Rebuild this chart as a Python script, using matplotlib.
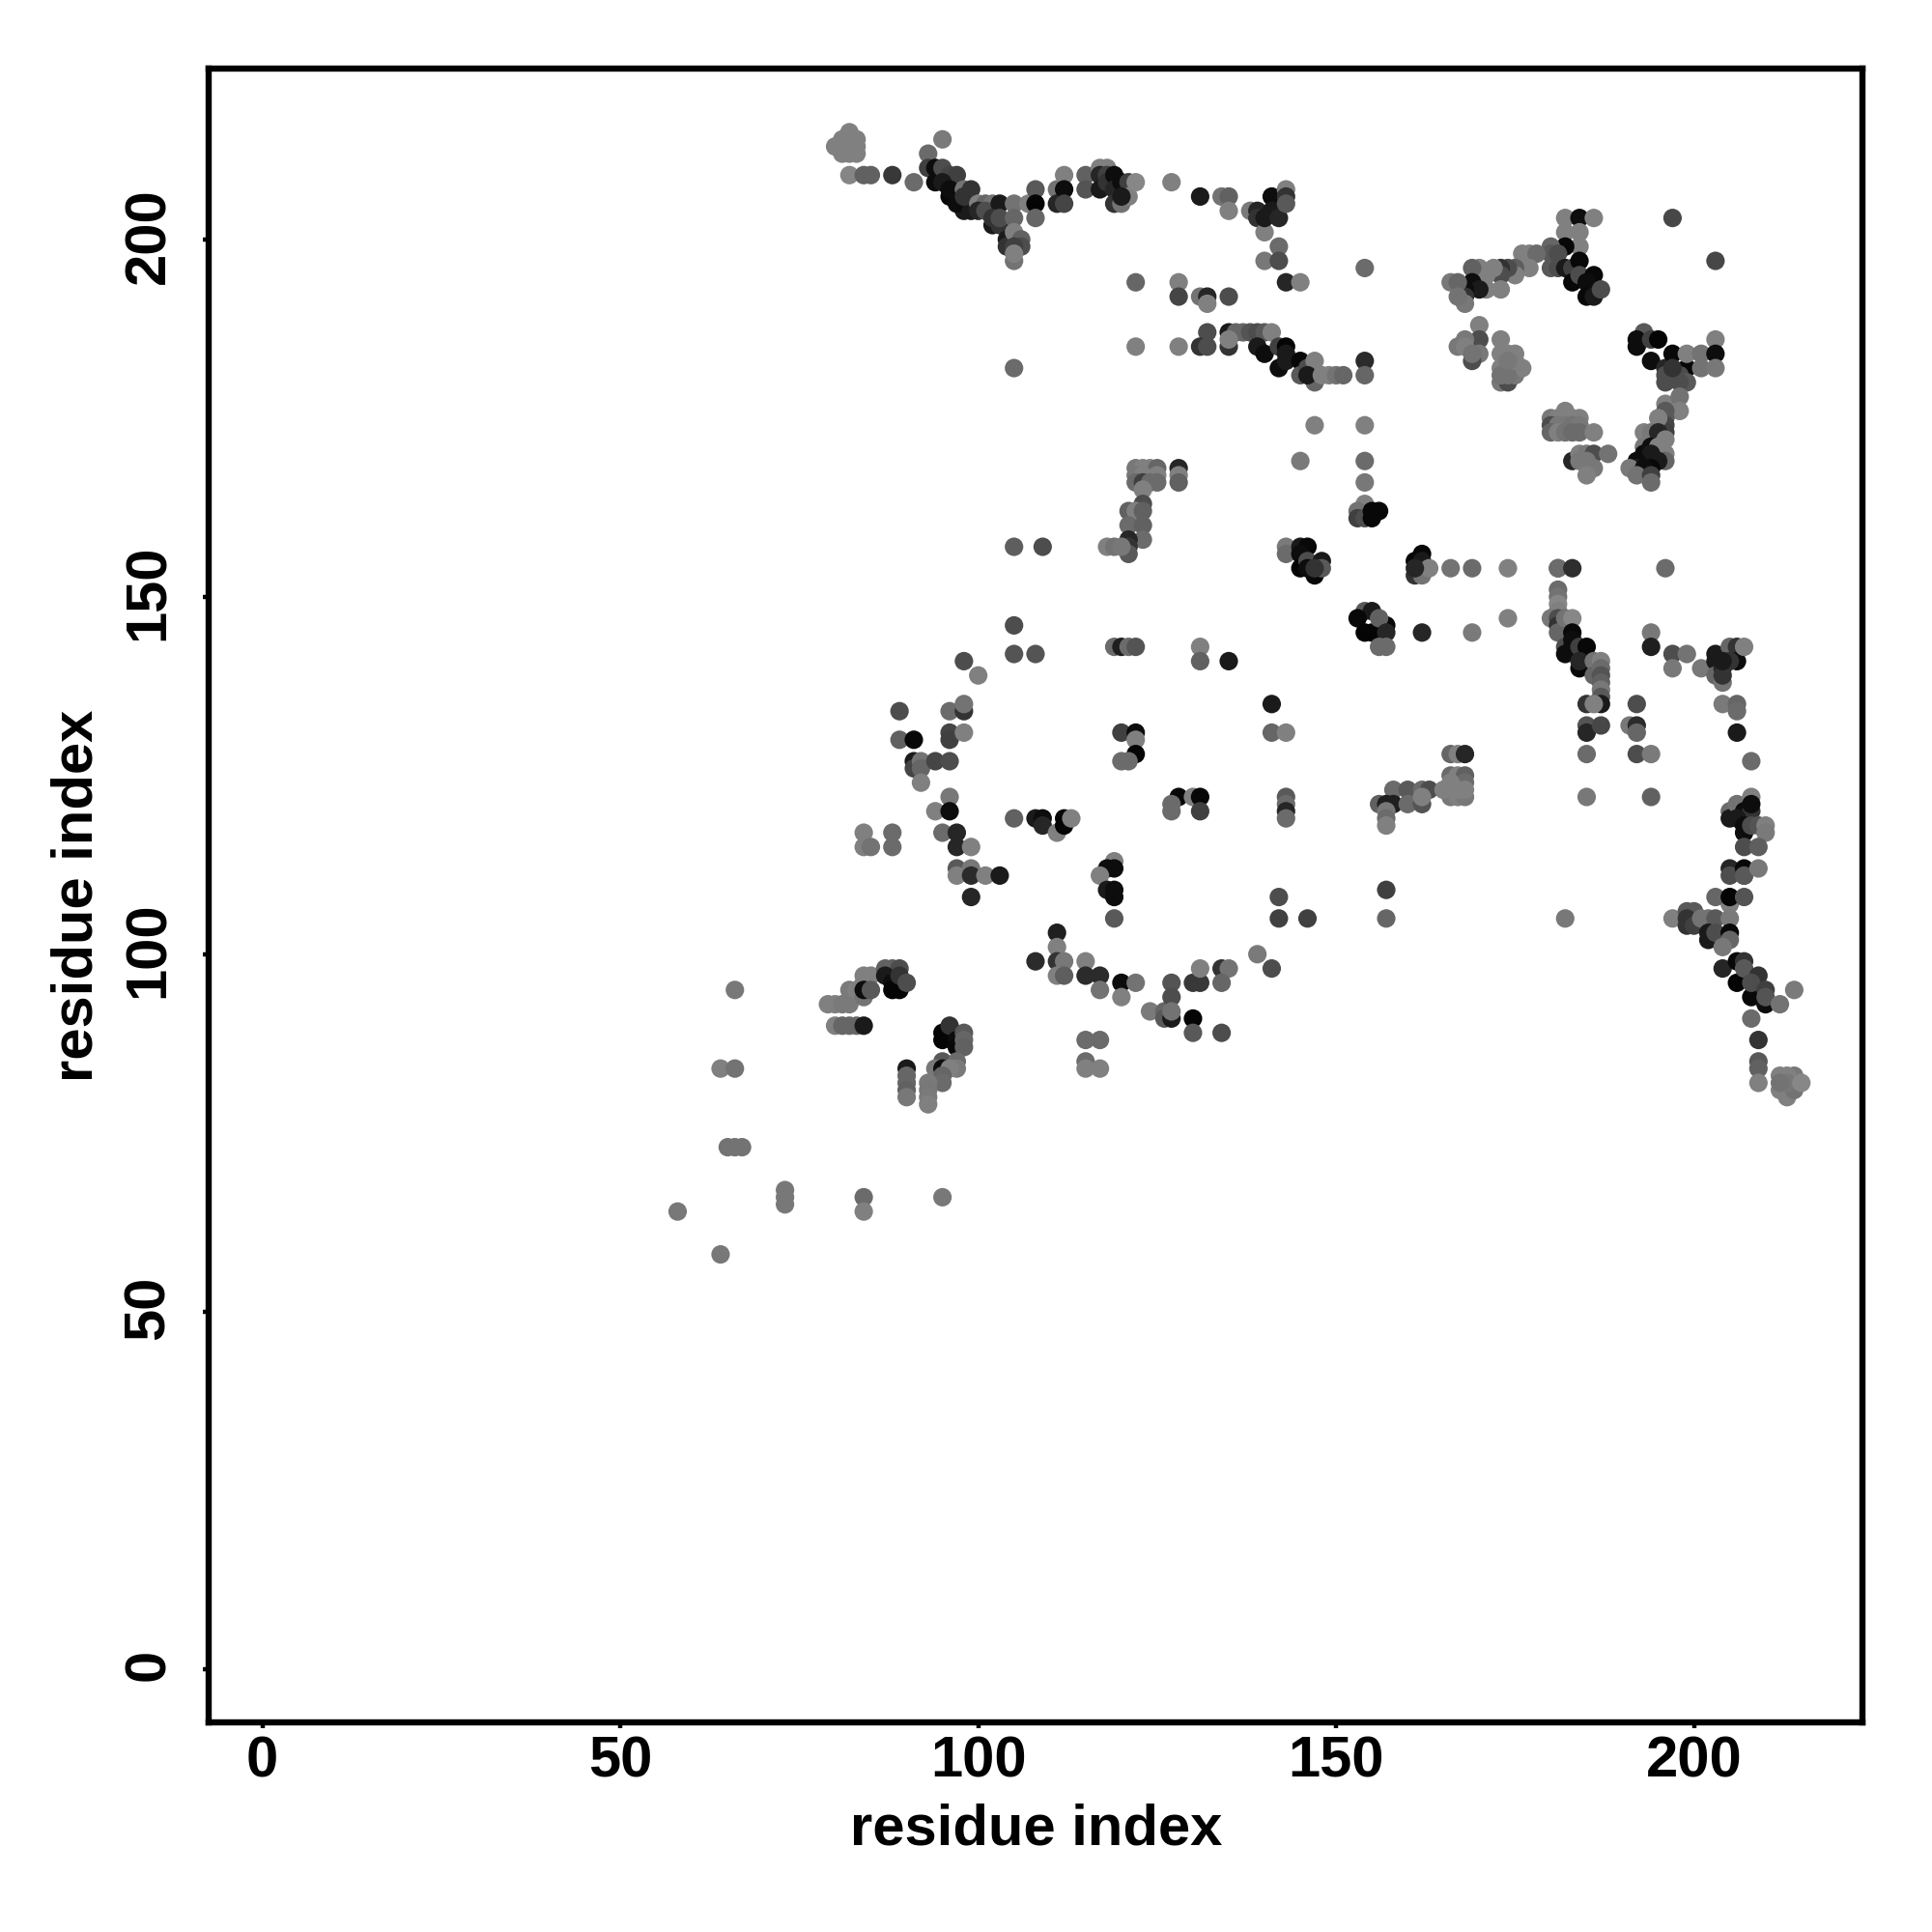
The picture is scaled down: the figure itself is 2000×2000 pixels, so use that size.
import matplotlib
matplotlib.use('Agg')
import matplotlib.pyplot as plt
from matplotlib.transforms import ScaledTranslation

# residue pairs, one group per part of the map
# x = residue, y = residue, g = grey level of the dot
top_x = [82,83,80,81,83,82,81,83, 82,84,85,88,91, 95,93,93, 94,94,95,96,96,97,95,96,98,99,98,97,99,98,
         100,101,102,100,101,102,103,102,103,104,104,103, 105,105,105,106,106,105,105,105,
         107,108,108,108, 111,111,112,112,112, 115,115,117,118,117,117,118,118,119,119,119,120,120,121,121,122,120,
         127,131,134,135,135, 138,139,139,140,141,140,141,142,143,143,143,142,140,142,143,145,
         122,128,128,131,132,132,135]
top_y = [215,214,213,214,213,212,212,212, 209,209,209,209,208, 214,212,210, 210,208,210,209,206,209,208,207,207,207,204,205,204,206,
         205,205,205,204,204,202,205,203,202,200,199,203, 205,203,201,200,199,199,197,198,
         205,207,205,203, 207,205,209,207,205, 209,207,210,210,209,207,209,208,209,207,205,205,208,208,206,208,206,
         208,206,206,206,204, 204,204,203,201,206,203,204,203,207,206,205,199,197,197,194,194,
         194,194,192,192,192,191,192]
top_g = [.5,.5,.5,.5,.5,.5,.5,.5, .52,.38,.38,.22,.42, .48,.42,.25, .05,.05,.3,.27,.03,.25,.1,.05,.45,.2,.1,.05,.1,.2,
         .5,.4,.45,.15,.3,.1,.1,.2,.2,.1,.2,.3, .45,.4,.5,.38,.3,.25,.45,.5,
         .5,.35,.02,.4, .45,.15,.5,.05,.27, .38,.33,.5,.5,.15,.1,.25,.2,.05,.15,.2,.45,.05,.25,.5,.53,.1,
         .5,.1,.45,.38,.5, .48,.15,.2,.5,.05,.1,.1,.15,.5,.2,.35,.42,.47,.3,.15,.5,
         .4,.5,.27,.45,.15,.5,.3]

strand_x = [132,135,136,137,138,139,140,141, 122,128,131,132,135,135, 139,140,142,143,142,143,143,145,145,146,147,147,146,
            148,149,150,151, 105, 154,154,154,154,154,154,154]
strand_y = [187,187,187,187,187,187,187,187, 185,185,185,185,185,186, 185,184,185,185,182,183,184,183,181,182,183,180,181,
            181,181,181,181, 182, 196,183,181,174,169,166,163]
strand_g = [.3,.1,.4,.4,.33,.3,.35,.5, .5,.5,.2,.3,.2,.5, .1,.05,.25,.02,.05,.1,.1,.03,.35,.3,.5,.4,.1,
            .5,.5,.45,.4, .42, .42,.17,.4,.5,.42,.47,.5]

ring_x = [182,184,186,182,184,184,182,180,180,180,181,181,182,183,184,183,184,186,185,185,186,187,
          176,177,178,177,175,175,174,173,173,173,172,171,171,170,169,169,170,168,168,168,166,167,167,
          170,170,168,167,168,170,169,169, 173,173,173,173,174,174,174,175,175,176,173,174,175,174,
          197,203]
ring_y = [203,203,203,201,201,199,199,199,198,196,198,196,196,196,197,194,195,195,194,192,192,193,
          198,198,198,196,196,195,196,196,195,193,196,193,195,196,196,194,193,193,192,191,194,194,192,
          188,186,186,185,185,184,183,184, 186,184,182,180,184,182,180,184,181,182,181,181,183,183,
          203,197]
ring_g = [.5,.05,.5,.5,.5,.5,.03,.4,.35,.35,.3,.3,.1,.25,.03,.03,.3,.03,.05,.03,.1,.3,
          .5,.5,.42,.5,.37,.5,.3,.2,.3,.5,.5,.5,.5,.5,.38,.05,.1,.05,.2,.47,.47,.4,.45,
          .5,.3,.47,.47,.5,.47,.3,.45, .5,.5,.5,.47,.5,.47,.3,.5,.47,.5,.45,.45,.5,.47,
          .28,.28]

arm_x = [193,192,192,194,195,194,196,197,199,199,201,203,203,201,203,196,196,198,199,198,197,
         196,198,198, 196,196,196,196,195,193,194,195,196,193,194,196,195,193,194,196,195,192,192,194,191,193,192,194,194,
         182,180,181,184,183,180,181,182,183,184,180,181,182,183,184,186,
         183,184,185,186,188,184,185,186,185]
arm_y = [187,186,185,186,186,183,182,184,182,184,184,186,184,182,182,181,180,181,180,180,182,
         177,178,176, 176,175,174,173,175,173,173,173,172,171,171,170,171,170,170,169,169,169,168,168,168,168,167,167,166,
         176,175,175,175,175,174,174,174,174,174,173,173,173,173,173,173,
         169,170,170,170,170,169,169,168,167]
arm_g = [.35,.05,.05,.25,.02,.05,.15,.03,.03,.5,.45,.5,.05,.45,.47,.3,.3,.3,.35,.3,.2,
         .5,.45,.5, .35,.35,.27,.25,.5,.5,.47,.15,.5,.47,.05,.5,.5,.05,.1,.4,.1,.05,.1,.03,.48,.05,.45,.25,.42,
         .5,.47,.5,.5,.5,.3,.47,.47,.45,.47,.4,.5,.45,.42,.42,.5,
         .15,.5,.47,.3,.45,.47,.47,.47,.5]

mid_x = [147,145, 153,153,154,155,155,156,
         122,123,124,125,128,122,123,125,128,122,123,124,125,128,123,123,121,122,123,121,123,123,121,121,121,118,119,120,
         143,143,145,146,145,145,146,147,148,148,146,147,
         162,161,161,162,162,163,161,166,169,174,181,174,169,
         162,154,155,153,157,154,155,156,157,156,157,
         119,120,121,122,131,131,135,141, 105,109,105,105,108]
mid_y = [174,169, 162,161,161,162,161,162,
         168,168,168,168,168,167,167,167,167,166,166,166,166,166,165,163,162,162,162,160,160,158,158,157,156,157,157,157,
         157,156,157,157,156,154,155,153,155,154,154,154,
         156,155,153,155,153,154,154,154,154,154,154,147,145,
         145,148,148,147,146,145,145,147,145,143,143,
         143,143,143,143,143,141,141,135, 157,157,146,142,142]
mid_g = [.5,.48, .45,.25,.3,.03,.03,.03,
         .47,.5,.5,.4,.15,.47,.5,.5,.5,.42,.25,.42,.42,.38,.5,.3,.38,.5,.38,.42,.38,.42,.15,.2,.35,.5,.45,.47,
         .48,.42,.1,.03,.05,.02,.3,.03,.1,.35,.05,.2,
         .03,.03,.2,.1,.45,.5,.15,.45,.42,.5,.42,.5,.48,
         .15,.35,.1,.03,.03,.02,.02,.38,.15,.42,.42,
         .42,.12,.42,.33,.5,.38,.1,.1, .37,.3,.3,.33,.33]

right_x = [181,183,196, 181,181,181,181,180,181,181,181,182,183,183,182,182,183,183,184,185,184,184,186,187,186,187,187,187,187,187,187,
           185,186,185,185,187,185,185,
           194,194,197,199,197,201,203,203,203,204,204,204,205,206,206,205,207,204,
           204,206,206,206,208,192,191,192,192,192,194,194]
right_y = [154,154,154, 151,150,149,148,147,147,146,145,147,147,145,143,142,144,143,143,143,140,141,141,141,139,140,139,138,137,136,135,
           135,135,132,131,132,128,122,
           145,143,142,142,140,140,142,141,139,138,140,139,143,143,141,141,143,141,
           135,135,134,131,127,135,132,132,131,128,128,122]
right_g = [.42,.18,.42, .42,.45,.53,.5,.47,.3,.2,.4,.45,.53,.03,.3,.05,.05,.05,.25,.03,.03,.15,.45,.5,.4,.42,.33,.38,.47,.35,.1,
           .2,.5,.33,.15,.28,.42,.47,
           .47,.12,.3,.45,.47,.47,.1,.1,.4,.45,.15,.2,.4,.2,.05,.2,.5,.1,
           .48,.4,.42,.1,.42,.3,.47,.17,.4,.3,.48,.38]

low_right_x = [205,205,206,207,208,208,206,207,207,207,208,208,209,210,210,
               207,209,205,205,207,207,209, 205,203,205,207,
               197,199,200,199,199,200,201,202,203,205,202,202,203,205,205,204,204,206,207,206,207,209,208,208,210,210,210,212,214,
               208,209,209,209,209, 212,214,213,212,213,214,213,212,215]
low_right_y = [120,119,121,120,120,122,119,118,117,111,121,118,118,118,117,
               115,115,112,111,112,111,112, 107,108,108,108,
               105,106,106,105,104,104,105,105,105,105,103,102,103,103,102,101,98,99,99,96,98,97,94,96,95,93,94,93,95,
               91,88,85,84,82, 83,83,83,81,80,81,82,82,82]
low_right_g = [.42,.1,.45,.05,.2,.5,.1,.05,.05,.35,.05,.3,.33,.5,.48,
               .3,.37,.15,.3,.03,.35,.47, .5,.4,.02,.33,
               .5,.35,.35,.2,.2,.25,.45,.45,.35,.48,.1,.1,.3,.03,.4,.47,.15,.03,.2,.02,.35,.2,.03,.3,.25,.05,.33,.45,.48,
               .42,.2,.35,.38,.5, .5,.47,.5,.5,.5,.45,.47,.45,.53]

bottom_x = [79,80,81,82,82,83,84,85,84,84,84,85, 80,81,82,83,84, 87,88,89,87,88,88,89,89,90,
            95,95,96,97,97,98,98,98, 90,90,90,90,90, 95,94,95,97,97,96,95,95,93,93,93,93,
            84,84,95, 66,64,66,65,66,67,73,73,73,58,64]
bottom_y = [93,93,93,93,95,95,97,97,96,94,95,95, 90,90,90,90,90, 98,98,98,97,96,95,95,97,96,
            89,88,90,88,87,89,88,87, 84,83,82,81,80, 85,84,84,85,84,84,83,82,82,81,80,79,
            66,64,66, 95,84,84,73,73,73,67,66,65,64,58]
bottom_g = [.5,.5,.48,.48,.48,.5,.5,.5,.5,.45,.05,.35, .5,.4,.4,.4,.1, .38,.38,.3,.1,.05,.02,.02,.2,.3,
            .02,.02,.2,.05,.03,.35,.4,.38, .1,.4,.4,.38,.47, .35,.47,.05,.42,.48,.5,.4,.42,.48,.47,.48,.5,
            .42,.5,.47, .47,.5,.45,.45,.45,.45,.47,.47,.47,.47,.47]

arc_x = [108,111,111,111,112,111,112,115,115,117,117,120,120,122,124,126,126,127,127,127,127,
         130,131,131,130,130,134,135,134,134,139,141,
         115,117,115,115,117]
arc_y = [99,103,101,99,99,97,97,99,97,97,95,96,94,96,92,92,91,96,94,91,92,
         96,96,98,91,89,98,98,96,89,100,98,
         88,88,85,84,84]
arc_g = [.17,.12,.5,.2,.47,.5,.37,.5,.17,.17,.45,.05,.5,.45,.48,.4,.35,.33,.3,.1,.45,
         .22,.22,.5,.02,.35,.2,.45,.4,.3,.48,.3,
         .42,.42,.42,.5,.5]

centre_x = [98,100,89,96,98,98,89,91,96,96,98, 91,91,92,92,92,94,96, 96,94,96,95,97,97,99,
            84,84,85,88,88, 97,97,99,99,101,103,99,
            105,108,109,109,111,112,112,113,
            120,122,122,122,120,121, 128,127,127,130,131,131,
            141,143,143,143,143,143, 119,118,119,117,118,119,119,119, 142,142,146,
            158,160,162,163,156,157,158,160,162,162,157,157,157,
            166,167,168,166,167,168,166,168,166,167,168,166,167,168,165,
            157,157,182]
centre_y = [141,139,134,134,134,135,130,130,131,130,131, 127,126,127,126,124,127,127, 122,120,120,117,117,115,115,
            117,115,115,117,115, 112,111,112,111,111,111,108,
            119,119,119,118,117,119,118,119,
            131,131,130,128,127,127, 122,121,120,122,122,120,
            131,131,122,121,120,119, 113,112,112,111,109,109,108,105, 108,105,105,
            123,123,123,123,121,121,121,121,121,122,120,119,118,
            128,128,128,125,125,125,123,124,122,122,122,124,123,123,123,
            109,105,105]
centre_g = [.3,.5,.3,.42,.2,.45,.38,.03,.27,.25,.5, .1,.27,.45,.4,.5,.27,.3, .47,.5,.05,.42,.15,.15,.5,
            .5,.5,.45,.42,.42, .35,.5,.47,.17,.5,.1,.15,
            .38,.1,.05,.15,.5,.03,.02,.5,
            .25,.05,.5,.02,.42,.42, .03,.42,.42,.5,.03,.25,
            .4,.5,.35,.42,.15,.42, .5,.05,.05,.5,.1,.05,.05,.35, .3,.25,.25,
            .42,.35,.42,.3,.38,.12,.12,.42,.33,.5,.47,.42,.5,
            .4,.5,.15,.42,.5,.38,.45,.42,.47,.5,.47,.5,.5,.5,.5,
            .25,.4,.47]

x_ticks = [0, 50, 100, 150, 200]
y_ticks = [0, 50, 100, 150, 200]
axis_label = 'residue index'

plt.rcParams['font.family'] = ['Liberation Sans', 'DejaVu Sans']
plt.rcParams['font.weight'] = 'bold'

fig = plt.figure(figsize=(20, 20), dpi=100)
ax = fig.add_axes([216 / 2000, 217 / 2000, 1712.5 / 2000, 1712 / 2000])

groups = [(top_x, top_y, top_g), (strand_x, strand_y, strand_g), (ring_x, ring_y, ring_g),
          (arm_x, arm_y, arm_g), (mid_x, mid_y, mid_g), (right_x, right_y, right_g),
          (low_right_x, low_right_y, low_right_g), (bottom_x, bottom_y, bottom_g),
          (arc_x, arc_y, arc_g), (centre_x, centre_y, centre_g)]
for xs, ys, gs in groups:
    colors = [str(g) for g in gs]
    ax.scatter(xs, ys, s=190, c=colors, linewidths=0, zorder=3)

ax.set_xlim(-7.52, 223.6)
ax.set_ylim(-7.47, 223.9)
ax.set_xticks(x_ticks)
ax.set_yticks(y_ticks)
ax.tick_params(axis='both', length=4.5, width=3.2, labelsize=43, color='black')
ax.tick_params(axis='x', pad=5)
ax.tick_params(axis='y', pad=20)
shift = ScaledTranslation(0, 3 / 72, fig.dpi_scale_trans)
for lab in ax.get_yticklabels():
    lab.set_rotation(90)
    lab.set_va('center')
    lab.set_transform(lab.get_transform() + shift)
for spine in ax.spines.values():
    spine.set_linewidth(4.6)

ax.set_xlabel(axis_label, fontsize=43, fontweight='bold', labelpad=11)
ax.set_ylabel(axis_label, fontsize=43, fontweight='bold', labelpad=14)

fig.savefig('out.png', dpi=100)
